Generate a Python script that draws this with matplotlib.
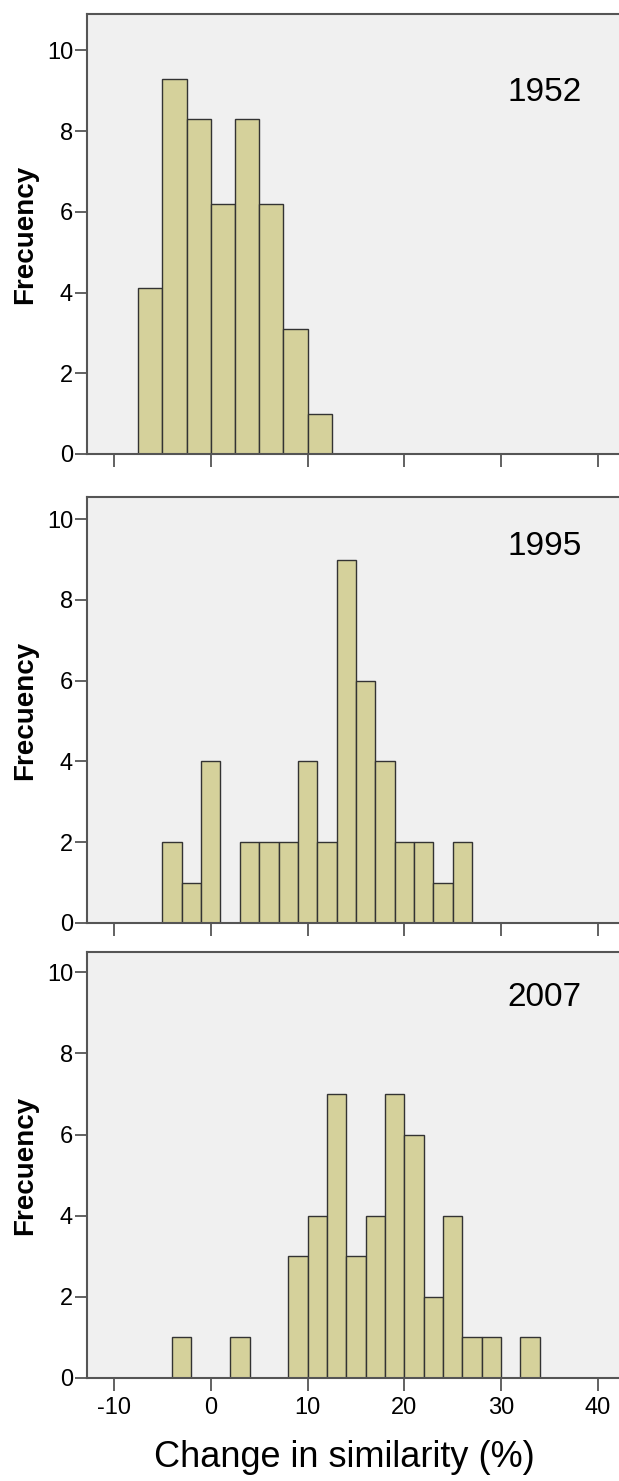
import numpy as np
import matplotlib
matplotlib.use('Agg')
import matplotlib.pyplot as plt

plt.rcParams['font.family'] = ['Liberation Sans', 'DejaVu Sans']
plt.rcParams['axes.unicode_minus'] = False

# 1952: bin width 2.5
edges_1952 = [-7.5, -5, -2.5, 0, 2.5, 5, 7.5, 10]
freq_1952 = [4.1, 9.3, 8.3, 6.2, 8.3, 6.2, 3.1, 1.0]

# 1995: bin width 2
edges_1995 = [-5, -3, -1, 3, 5, 7, 9, 11, 13, 15, 17, 19, 21, 23, 25]
freq_1995 = [2, 1, 4, 2, 2, 2, 4, 2, 9, 6, 4, 2, 2, 1, 2]

# 2007: bin width 2
edges_2007 = [-4, 2, 8, 10, 12, 14, 16, 18, 20, 22, 24, 26, 28, 32]
freq_2007 = [1, 1, 3, 4, 7, 3, 4, 7, 6, 2, 4, 1, 1, 1]

panels = [
    ('1952', edges_1952, freq_1952, 2.5, 10.9, 8.95),
    ('1995', edges_1995, freq_1995, 2.0, 10.55, 9.33),
    ('2007', edges_2007, freq_2007, 2.0, 10.5, 9.38),
]

W, H = 619, 1481
fig = plt.figure(figsize=(W / 100, H / 100), dpi=100)

# axes boxes in pixels: (top, y0 baseline)
boxes = [(14, 454), (497, 923), (952, 1378)]
left_px = 87
bar_color = '#d5d19b'
bg = '#f0f0f0'
spine_c = '#555555'

for i, (year, edges, freq, bw, ytop, ytxt) in enumerate(panels):
    top, base = boxes[i]
    ax = fig.add_axes([left_px / W, 1 - base / H, 1.0 - left_px / W, (base - top) / H])
    ax.set_facecolor(bg)
    ax.bar(edges, freq, width=bw, align='edge', color=bar_color,
           edgecolor='#333333', linewidth=1.0, zorder=2)
    ax.set_xlim(-12.8, 42.2)
    ax.set_ylim(0, ytop)
    ax.set_xticks([-10, 0, 10, 20, 30, 40])
    ax.set_yticks([0, 2, 4, 6, 8, 10])
    for s in ['left', 'top', 'bottom']:
        ax.spines[s].set_color(spine_c)
        ax.spines[s].set_linewidth(1.5)
    ax.spines['right'].set_visible(False)
    ax.tick_params(axis='y', direction='out', length=9, width=1.3, color=spine_c,
                   labelsize=17, pad=1)
    ax.tick_params(axis='x', direction='out', length=9, width=1.3, color=spine_c,
                   labelsize=17, pad=5)
    ax.set_ylabel('Frecuency', fontsize=20, fontweight='bold', labelpad=6)
    ax.text(34.5, ytxt, year, fontsize=24, ha='center', va='center')
    if i < 2:
        ax.set_xticklabels([])
    else:
        ax.set_xlabel('Change in similarity (%)', fontsize=26, labelpad=18)
        ax.xaxis.set_label_coords(0.484, -0.145)

fig.savefig('out.png', dpi=100)
